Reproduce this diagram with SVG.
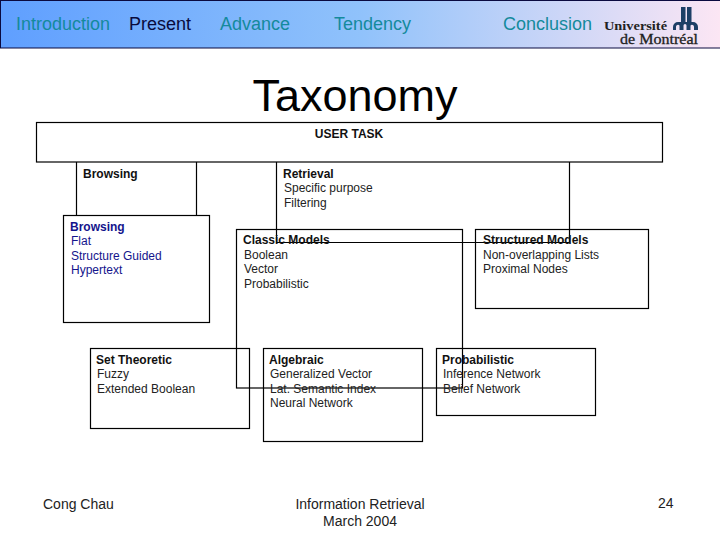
<svg xmlns="http://www.w3.org/2000/svg" width="720" height="540" viewBox="0 0 720 540">
<defs>
<linearGradient id="bar" x1="0" y1="0" x2="1" y2="0">
<stop offset="0" stop-color="#5f9fff"/>
<stop offset="0.5" stop-color="#90c2fb"/>
<stop offset="1" stop-color="#fce6f4"/>
</linearGradient>
</defs>
<style>
text{font-family:"Liberation Sans",Arial,sans-serif;fill:#222}
.nav{font-size:18px;fill:#148a9c}
.box{fill:none;stroke:#000;stroke-width:1.2}
.t{font-size:12px}
.b{font-size:12px;font-weight:bold;fill:#111}
.blue{fill:#14148c}
.foot{font-size:14px}
.logo{font-family:"Liberation Serif",serif;fill:#222}
</style>
<g id="header">
<rect x="0.5" y="0.5" width="720" height="47.5" fill="url(#bar)" stroke="#0a0a40" stroke-width="1"/>
<text class="nav" x="16" y="30">Introduction</text>
<text class="nav" x="129" y="30" style="fill:#0a0a3c">Present</text>
<text class="nav" x="220" y="30">Advance</text>
<text class="nav" x="334" y="30">Tendency</text>
<text class="nav" x="503" y="30">Conclusion</text>
</g>
<g id="logo">
<text class="logo" x="604" y="30" font-size="13.500" font-weight="bold" textLength="63" lengthAdjust="spacingAndGlyphs">Université</text>
<text class="logo" x="620" y="44" font-size="15" textLength="78" lengthAdjust="spacingAndGlyphs" stroke="#222" stroke-width="0.300">de Montréal</text>
<path d="M681 7h4.500v15h-4.500zM687 7h4.500v15h-4.500z" fill="#1d3f66"/>
<path d="M673 30v-3a5 5 0 0 1 5-5h15a5 5 0 0 1 5 5v3h-4v-3a2 2 0 0 0-3.500-1.500v4.500h-4v-4.500a1.500 1.500 0 0 0-3 0v4.500h-4v-4.500a2 2 0 0 0-3.500 1.500v3z" fill="#1d3f66"/>
</g>
<text id="title" x="355" y="111" font-size="45" text-anchor="middle" style="fill:#000">Taxonomy</text>
<g id="connectors">
<path class="box" d="M76.500 162V215M196.500 162V215"/>
<path class="box" d="M276.500 162V242.500H569.500V162"/>
</g>
<g id="user-task">
<rect class="box" x="36.500" y="122.500" width="626" height="39.500"/>
<text class="b" x="349" y="138" text-anchor="middle">USER TASK</text>
</g>
<g id="browsing-label"><text class="b" x="83" y="178">Browsing</text></g>
<g id="retrieval">
<text class="b" x="283" y="178">Retrieval</text>
<text class="t" x="284" y="192">Specific purpose</text>
<text class="t" x="284" y="207">Filtering</text>
</g>
<g id="browsing">
<rect class="box" x="63.500" y="215.500" width="146" height="107"/>
<text class="b blue" x="70" y="231">Browsing</text>
<text class="t blue" x="71" y="245">Flat</text>
<text class="t blue" x="71" y="260">Structure Guided</text>
<text class="t blue" x="71" y="274">Hypertext</text>
</g>
<g id="classic-models">
<rect class="box" x="236.500" y="229.500" width="226" height="158.500"/>
<text class="b" x="243" y="244">Classic Models</text>
<text class="t" x="244" y="259">Boolean</text>
<text class="t" x="244" y="273">Vector</text>
<text class="t" x="244" y="288">Probabilistic</text>
</g>
<g id="structured-models">
<rect class="box" x="475.500" y="229.500" width="173" height="79"/>
<text class="b" x="483" y="244">Structured Models</text>
<text class="t" x="483" y="259">Non-overlapping Lists</text>
<text class="t" x="483" y="273">Proximal Nodes</text>
</g>
<g id="set-theoretic">
<rect class="box" x="90.500" y="348.500" width="159" height="80"/>
<text class="b" x="96" y="364">Set Theoretic</text>
<text class="t" x="97" y="378">Fuzzy</text>
<text class="t" x="97" y="393">Extended Boolean</text>
</g>
<g id="algebraic">
<rect class="box" x="263.500" y="348.500" width="159" height="93"/>
<text class="b" x="269" y="364">Algebraic</text>
<text class="t" x="270" y="378">Generalized Vector</text>
<text class="t" x="270" y="393">Lat. Semantic Index</text>
<text class="t" x="270" y="407">Neural Network</text>
</g>
<g id="probabilistic">
<rect class="box" x="436.500" y="348.500" width="159" height="67"/>
<text class="b" x="442" y="364">Probabilistic</text>
<text class="t" x="443" y="378">Inference Network</text>
<text class="t" x="443" y="393">Belief Network</text>
</g>
<g id="footer">
<text class="foot" x="43" y="509">Cong Chau</text>
<text class="foot" x="360" y="509" text-anchor="middle">Information Retrieval</text>
<text class="foot" x="360" y="526" text-anchor="middle">March 2004</text>
<text class="foot" x="658" y="508">24</text>
</g>
</svg>
